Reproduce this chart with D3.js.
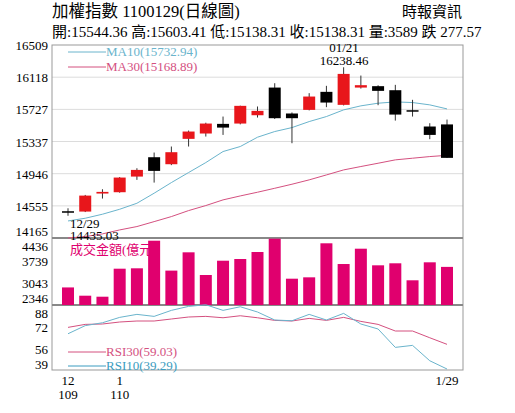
<!DOCTYPE html><html><head><meta charset="utf-8">
<script src="https://cdn.jsdelivr.net/npm/d3@7"></script>
<style>body{margin:0;background:#fff}text{font-family:"Liberation Serif","Noto Sans CJK TC",serif}</style></head><body>
<svg id="c" width="515" height="413"></svg>
<script>
const opens=[14490,14486,14705,14721,14911,15146,15061,15369,15434,15551,15555,15656,15992,15677,15721,15940,15782,15992,16009,15960,15717,15519,15544.36];
const highs=[14526,14688,14757,14905,15012,15203,15276,15470,15565,15640,15772,15762,16045,15690,15924,16013,16238.46,16138,16020,16025,15843,15559,15603.41];
const lows=[14435.03,14480,14644,14715,14871,14838,15050,15276,15397,15417,15545,15628,15610,15316,15715,15754,15775,15980,15778,15591,15640,15365,15138.31];
const closes=[14482,14680,14725,14899,14992,14980,15207,15458,15555,15506,15770,15709,15620,15620,15883,15810,16158,16021,15952,15664,15712,15417,15138.31];
const ma10=[14372,14405,14454,14514,14587,14709,14838,14960,15081,15215,15276,15389,15458,15506,15579,15640,15721,15770,15802,15818,15810,15782,15732.94];
const ma30=[14165,14182,14215,14263,14304,14364,14425,14498,14559,14628,14676,14721,14769,14818,14871,14931,14992,15033,15073,15114,15134,15154,15168.89];
const volume=[2794,2474,2435,3519,3534,4602,3445,4153,3275,3828,3894,4165,4680,3132,3185,4502,3700,4293,3650,3728,3070,3766,3589];
const rsi30=[72.6,75.0,75.3,76.9,77.7,77.7,79.3,80.9,81.4,80.3,81.9,80.3,78.2,77.7,79.8,78.2,80.6,77.4,75.0,69.7,69.7,64.3,59.03];
const rsi10=[67.5,74.0,76.3,80.6,83.0,81.4,86.2,89.4,90.7,86.2,89.1,84.9,78.5,77.9,83.0,78.5,83.8,75.3,71.3,56.6,58.2,45.9,39.29];
const priceTicks=[14165,14555,14946,15337,15727,16118,16509];
const volTicks=[2346,3043,3739,4436];
const rsiTicks=[39,56,72,88];

const svg=d3.select("#c");
const L=52,R=463,RED="#e8161b",PINK="#e0006e",BLUE="#6ab4cc",PINKL="#d4507f";
const idx=d3.range(opens.length);
const x=d3.scalePoint().domain(idx).range([68,447]);
const yP=d3.scaleLinear().domain([14165,16509]).range([238,45]);
const yV=d3.scaleLinear().domain([2114,4707]).range([305,238]);
const yR=d3.scaleLinear().domain([38.5,90.5]).range([370,305]);

svg.append("text").attr("x",52).attr("y",17).attr("font-size",16.5).text("加權指數 1100129(日線圖)");
svg.append("text").attr("x",402).attr("y",17).attr("font-size",15).text("時報資訊");
svg.append("text").attr("x",52).attr("y",37).attr("font-size",15).text("開:15544.36 高:15603.41 低:15138.31 收:15138.31 量:3589 跌 277.57");

svg.append("g").selectAll("line").data(priceTicks.slice(1,-1)).join("line")
 .attr("x1",L).attr("x2",R).attr("y1",d=>yP(d)).attr("y2",d=>yP(d)).attr("stroke","#dcdcdc");
svg.append("rect").attr("x",L).attr("y",45).attr("width",R-L).attr("height",325).attr("fill","none").attr("stroke","#999");
[238,305].forEach(v=>svg.append("line").attr("x1",L).attr("x2",R).attr("y1",v).attr("y2",v).attr("stroke","#888").attr("stroke-width",2));

svg.append("g").selectAll("text").data(priceTicks).join("text").attr("x",48).attr("y",(d,i)=>i==0?236:yP(d)+5)
 .attr("text-anchor","end").attr("font-size",13).text(d=>d);
svg.append("g").selectAll("text").data(volTicks).join("text").attr("x",48).attr("y",(d,i)=>[303,288,266,251][i]).attr("text-anchor","end").attr("font-size",13).text(d=>d);
svg.append("g").selectAll("text").data(rsiTicks).join("text").attr("x",48).attr("y",(d,i)=>[369,354,332,318][i]).attr("text-anchor","end").attr("font-size",13).text(d=>d);

const line=(data,sc)=>d3.line().x((d,i)=>x(i)).y(d=>sc(d))(data);
svg.append("path").attr("d",line(ma10,yP)).attr("fill","none").attr("stroke",BLUE);
svg.append("path").attr("d",line(ma30,yP)).attr("fill","none").attr("stroke",PINKL);

const g=svg.append("g");
idx.forEach(i=>{
 const up=closes[i]>=opens[i],col=up?RED:"#000";
 g.append("line").attr("x1",x(i)).attr("x2",x(i)).attr("y1",yP(highs[i])).attr("y2",yP(lows[i])).attr("stroke","#333");
 const t=yP(Math.max(opens[i],closes[i])),b=yP(Math.min(opens[i],closes[i]));
 g.append("rect").attr("x",x(i)-6).attr("width",12).attr("y",t).attr("height",Math.max(1.5,b-t)).attr("fill",col);
});

svg.append("g").selectAll("rect").data(volume).join("rect").attr("x",(d,i)=>x(i)-6).attr("width",12)
 .attr("y",d=>yV(d)).attr("height",d=>305-yV(d)).attr("fill",PINK);

svg.append("path").attr("d",line(rsi30,yR)).attr("fill","none").attr("stroke",PINKL);
svg.append("path").attr("d",line(rsi10,yR)).attr("fill","none").attr("stroke",BLUE);

const leg=(y,c,t)=>{svg.append("line").attr("x1",68).attr("x2",106).attr("y1",y).attr("y2",y).attr("stroke",c);
 svg.append("text").attr("x",106).attr("y",y+4).attr("font-size",13).attr("fill",c).text(t);};
leg(52,BLUE,"MA10(15732.94)");leg(67,PINKL,"MA30(15168.89)");
leg(352,PINKL,"RSI30(59.03)");leg(366,"#3a9cc0","RSI10(39.29)");

svg.append("text").attr("x",344).attr("y",52).attr("text-anchor","middle").attr("font-size",13).text("01/21");
svg.append("text").attr("x",344).attr("y",65).attr("text-anchor","middle").attr("font-size",13).text("16238.46");
svg.append("text").attr("x",70).attr("y",228).attr("font-size",13).text("12/29");
svg.append("text").attr("x",70).attr("y",240).attr("font-size",13).text("14435.03");
svg.append("text").attr("x",70).attr("y",254).attr("font-size",13).attr("fill",PINK).text("成交金額(億元)");

const xl=[[0,"12","109"],[3,"1","110"],[22,"1/29",""]];
xl.forEach(([i,a,b])=>{svg.append("text").attr("x",x(i)).attr("y",385).attr("text-anchor","middle").attr("font-size",13).text(a);
 if(b)svg.append("text").attr("x",x(i)).attr("y",399).attr("text-anchor","middle").attr("font-size",13).text(b);});
</script></body></html>
